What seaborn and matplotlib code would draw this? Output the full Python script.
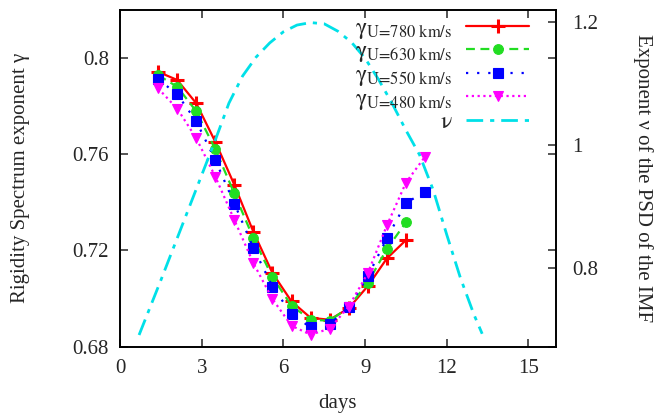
import matplotlib
matplotlib.use("Agg")
import matplotlib.pyplot as plt
import seaborn as sns
import pandas as pd

# Days of the 27-day rotation at which the exponents were evaluated
days = [1.4, 2.1, 2.8, 3.5, 4.2, 4.9, 5.6, 6.3, 7.0, 7.7, 8.4, 9.1, 9.8, 10.5, 11.2]

# Rigidity spectrum exponent gamma for four solar-wind speeds
gamma_780 = [0.7943, 0.7909, 0.7812, 0.7652, 0.7473, 0.7277, 0.7106, 0.6988,
             0.6920, 0.6912, 0.6960, 0.7052, 0.7167, 0.7243]
gamma_630 = [0.7929, 0.7881, 0.7779, 0.7621, 0.7437, 0.7251, 0.7089, 0.6970,
             0.6912, 0.6908, 0.6964, 0.7066, 0.7206, 0.7317]
gamma_550 = [0.7912, 0.7850, 0.7737, 0.7576, 0.7395, 0.7210, 0.7050, 0.6936,
             0.6880, 0.6894, 0.6964, 0.7093, 0.7251, 0.7397, 0.7445]
gamma_480 = [0.7874, 0.7790, 0.7667, 0.7507, 0.7327, 0.7147, 0.6998, 0.6887,
             0.6850, 0.6875, 0.6967, 0.7106, 0.7304, 0.7482, 0.7590]

# Exponent nu of the power spectral density of the IMF
nu_days = [0.7, 1.5, 2.5, 3.5, 4.0, 4.5, 5.0, 5.5, 6.0, 6.5, 7.0, 7.5, 8.0,
           8.5, 9.0, 9.5, 10.0, 10.5, 11.0, 11.5, 12.0, 12.5, 13.0, 13.3]
nu_vals = [0.691, 0.780, 0.894, 1.008, 1.068, 1.112, 1.143, 1.166, 1.184,
           1.195, 1.199, 1.197, 1.185, 1.167, 1.141, 1.106, 1.067, 1.024,
           0.984, 0.927, 0.854, 0.784, 0.724, 0.693]

x_ticks = [0, 3, 6, 9, 12, 15]
y_ticks = [0.68, 0.72, 0.76, 0.8]
y_tick_labels = ["0.68", "0.72", "0.76", "0.8"]
y2_ticks = [0.8, 1.0, 1.2]
y2_tick_labels = ["0.8", "1", "1.2"]

sns.set_style("ticks")
plt.rcParams["font.family"] = ["Liberation Serif", "DejaVu Serif"]
plt.rcParams["mathtext.fontset"] = "stix"

fig = plt.figure(figsize=(6.55, 4.16), dpi=100)
ax = fig.add_axes([0.1832, 0.1666, 0.6652, 0.8094])
ax2 = ax.twinx()

series = [
    (gamma_780, "780", "#ff0000", "-", "+", 9.5),
    (gamma_630, "630", "#22dd22", (0, (4, 2.5)), "o", 7),
    (gamma_550, "550", "#0000ff", (0, (1, 4)), "s", 7.5),
    (gamma_480, "480", "#ff00ff", (0, (1, 1.6)), "v", 7.5),
]

for vals, speed, color, ls, marker, ms in series:
    label = r"$\mathrm{γ}_{\text{U=%s km/s}}$" % speed
    df = pd.DataFrame({"days": days[:len(vals)], "gamma": vals})
    sns.lineplot(data=df, x="days", y="gamma", ax=ax, color=color,
                 linestyle=ls, linewidth=1.6, marker=marker, markersize=ms,
                 markeredgewidth=2.2 if marker == "+" else 0.8,
                 markeredgecolor=color, label=label, sort=False,
                 estimator=None, legend=False)

df_nu = pd.DataFrame({"days": nu_days, "nu": nu_vals})
sns.lineplot(data=df_nu, x="days", y="nu", ax=ax2, color="#00e0e8",
             linestyle=(0, (6, 2.5, 1.5, 2.5)), linewidth=2.0,
             label=r"$\mathrm{ν}$", sort=False, estimator=None, legend=False)

ax.set_xlim(0, 16)
ax.set_ylim(0.68, 0.82)
ax2.set_ylim(0.672, 1.2195)

ax.set_xticks(x_ticks)
ax.set_xticklabels([str(t) for t in x_ticks])
ax.set_yticks(y_ticks)
ax.set_yticklabels(y_tick_labels)
ax2.set_yticks(y2_ticks)
ax2.set_yticklabels(y2_tick_labels)

ax.tick_params(axis="both", direction="in", length=6, width=1.1,
               labelsize=15, top=True, right=True)
ax.tick_params(axis="y", pad=8)
ax.tick_params(axis="x", pad=9)
ax2.tick_params(axis="y", direction="in", length=6, width=1.1,
                labelsize=15, pad=12)

for a in (ax, ax2):
    for sp in a.spines.values():
        sp.set_linewidth(1.2)
        sp.set_color("black")

ax.set_xlabel("days", fontsize=15)
ax.xaxis.set_label_coords(0.5, -0.14)
ax.set_ylabel("Rigidity Spectrum exponent γ", fontsize=15)
ax.yaxis.set_label_coords(-0.228, 0.5)
ax.yaxis.label.set_va("center")
ax2.set_ylabel("Exponent ν of the PSD of the IMF", fontsize=15, rotation=-90)
ax2.yaxis.set_label_coords(1.2, 0.5)
ax2.yaxis.label.set_va("center")
ax2.yaxis.label.set_ha("center")

h1, l1 = ax.get_legend_handles_labels()
h2, l2 = ax2.get_legend_handles_labels()
leg = ax2.legend(h1 + h2, l1 + l2, loc="upper right", frameon=False,
                 markerfirst=False, numpoints=1, handlelength=2.65,
                 fontsize=17, labelspacing=0.0, borderaxespad=0.2,
                 handletextpad=0.6, bbox_to_anchor=(0.971, 1.02))

fig.savefig("out.png", dpi=100)
